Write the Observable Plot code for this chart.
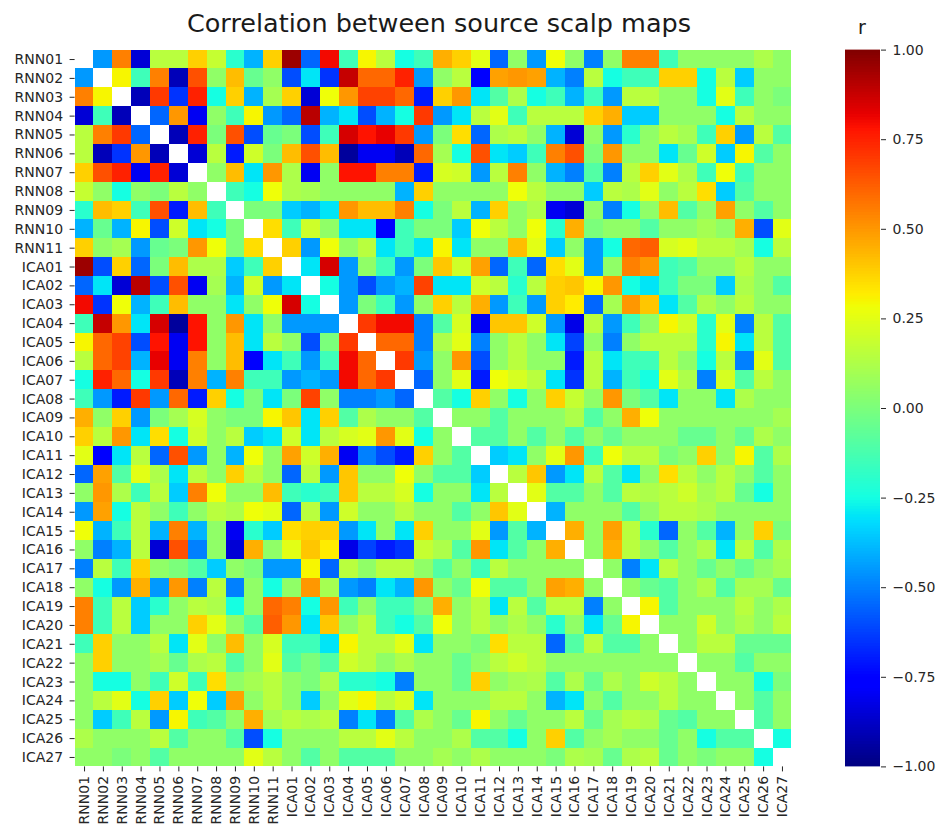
<!DOCTYPE html>
<html>
<head>
<meta charset="utf-8">
<script src="https://cdn.jsdelivr.net/npm/d3@7"></script>
<script src="https://cdn.jsdelivr.net/npm/@observablehq/plot@0.6"></script>
<style>
  body { margin: 0; background: #fff; font-family: "DejaVu Sans", sans-serif; }
  #chart { position: relative; width: 940px; height: 828px; overflow: hidden; background: #fff; }
  #chart svg { position: absolute; top: 0; }
  #title { position: absolute; left: 0; width: 878px; top: 8px; line-height: 30px; text-align: center; font-size: 25.5px; color: #1a1a1a; }
  #cbar-label { position: absolute; left: 842px; width: 40px; top: 14px; line-height: 26px; text-align: center; font-size: 19px; color: #1a1a1a; }
</style>
</head>
<body>
<div id="chart">
  <div id="title">Correlation between source scalp maps</div>
  <div id="cbar-label">r</div>
</div>
<script>
// Component names (RNN sources, then ICA components)
const rnnLabels = ["RNN01","RNN02","RNN03","RNN04","RNN05","RNN06","RNN07","RNN08","RNN09","RNN10","RNN11"];
const icaLabels = ["ICA01","ICA02","ICA03","ICA04","ICA05","ICA06","ICA07","ICA08","ICA09","ICA10",
                   "ICA11","ICA12","ICA13","ICA14","ICA15","ICA16","ICA17","ICA18","ICA19","ICA20",
                   "ICA21","ICA22","ICA23","ICA24","ICA25","ICA26","ICA27"];
const labels = rnnLabels.concat(icaLabels);

// Pearson r, lower triangle: row i lists its correlation with components 0..i-1
const lowerTriangle = [
  [],
  [-0.45],
  [0.55, 0.3],
  [-0.85, -0.15, -0.9],
  [0.15, 0.55, 0.7, -0.55],
  [0.15, -0.9, -0.65, 0.5, -0.9],
  [0.38, 0.65, 0.75, -0.8, 0.75, -0.85],
  [0.18, 0.05, -0.25, 0.05, 0.0, 0.15, 0.05],
  [-0.2, 0.42, 0.38, -0.15, 0.65, -0.7, 0.42, -0.15],
  [-0.4, -0.05, -0.4, 0.3, -0.6, 0.2, -0.3, -0.25, 0.0],
  [0.38, 0.05, 0.1, -0.45, -0.05, 0.0, 0.5, 0.28, 0.0, 0.35],
  [0.95, -0.6, 0.38, -0.55, 0.0, 0.42, 0.12, 0.12, -0.35, -0.15, 0.38],
  [-0.55, -0.3, -0.85, 0.9, -0.6, 0.65, -0.8, 0.1, -0.4, 0.2, -0.45, -0.3],
  [0.8, -0.65, 0.28, -0.4, -0.15, 0.42, 0.05, 0.05, -0.3, 0.05, 0.28, 0.85, -0.25],
  [-0.15, 0.88, 0.5, -0.3, 0.85, -0.95, 0.78, 0.05, 0.5, -0.3, 0.05, -0.45, -0.45, -0.45],
  [0.3, 0.6, 0.68, -0.6, 0.78, -0.8, 0.78, 0.05, 0.42, -0.3, 0.15, 0.05, -0.6, 0.0, 0.7],
  [0.15, 0.6, 0.68, -0.4, 0.82, -0.8, 0.55, 0.05, 0.42, -0.75, -0.3, -0.15, -0.45, -0.15, 0.8, 0.6],
  [-0.25, 0.75, 0.6, -0.25, 0.7, -0.9, 0.55, -0.4, 0.55, -0.15, -0.15, -0.45, -0.4, -0.45, 0.8, 0.6, 0.7],
  [-0.15, -0.45, -0.7, 0.7, -0.45, 0.6, -0.7, 0.38, -0.25, 0.0, -0.3, 0.0, 0.68, 0.05, -0.5, -0.5, -0.45, -0.55],
  [0.45, 0.05, 0.38, -0.45, 0.0, 0.1, 0.22, 0.05, 0.0, 0.0, 0.3, 0.4, -0.3, 0.38, -0.1, 0.12, 0.05, 0.05, -0.1],
  [0.38, 0.15, 0.5, -0.3, 0.35, -0.25, 0.2, 0.05, 0.15, -0.35, -0.3, 0.2, -0.3, 0.15, 0.22, 0.25, 0.5, 0.25, -0.25, 0.05],
  [0.25, -0.75, -0.3, 0.15, -0.55, 0.65, -0.45, 0.05, -0.4, 0.28, 0.05, 0.48, 0.2, 0.45, -0.8, -0.5, -0.6, -0.7, 0.38, 0.05, -0.1],
  [-0.55, 0.48, -0.1, 0.25, 0.12, -0.3, 0.15, 0.05, 0.38, 0.15, 0.05, -0.55, 0.15, -0.45, 0.4, 0.05, 0.05, 0.28, 0.05, -0.1, -0.1, -0.35],
  [0.05, 0.5, 0.12, -0.15, 0.15, -0.35, 0.55, 0.28, 0.05, 0.05, 0.42, -0.15, -0.2, -0.15, 0.4, 0.15, 0.15, 0.22, -0.25, 0.05, 0.05, -0.3, 0.15],
  [-0.45, 0.48, -0.25, 0.15, 0.05, -0.15, 0.05, 0.15, 0.12, 0.28, 0.25, -0.55, 0.15, -0.45, 0.2, 0.05, 0.05, 0.15, 0.05, 0.05, -0.1, 0.05, 0.4, 0.25],
  [0.28, -0.4, -0.15, 0.15, -0.4, 0.55, -0.4, 0.05, -0.8, -0.2, -0.35, 0.35, 0.38, 0.38, -0.45, -0.3, 0.05, -0.3, 0.38, 0.05, 0.05, 0.25, -0.45, -0.1, -0.4],
  [0.05, -0.5, -0.4, 0.15, -0.85, 0.65, -0.5, 0.05, -0.85, 0.45, 0.05, 0.25, 0.4, 0.32, -0.82, -0.62, -0.7, -0.65, 0.18, 0.12, -0.1, 0.5, -0.3, -0.1, 0.05, 0.45],
  [-0.5, 0.15, -0.15, 0.38, 0.05, 0.0, -0.1, -0.35, 0.05, 0.0, -0.45, -0.45, 0.3, -0.55, 0.15, 0.05, 0.15, 0.15, 0.05, -0.1, 0.05, -0.15, 0.15, 0.05, 0.05, 0.05, 0.05],
  [0.05, -0.25, -0.45, 0.45, -0.45, 0.5, -0.5, 0.15, -0.5, 0.05, -0.25, 0.05, 0.5, 0.1, -0.45, -0.5, -0.3, -0.4, 0.5, 0.05, -0.05, 0.28, -0.1, -0.1, 0.05, 0.48, 0.45, 0.05],
  [0.55, -0.15, 0.15, -0.35, -0.2, 0.05, 0.15, 0.12, -0.25, 0.05, 0.6, 0.55, -0.25, 0.5, -0.15, 0.05, -0.15, -0.15, 0.0, 0.45, 0.05, 0.15, -0.3, 0.15, -0.1, 0.15, 0.15, -0.5, 0.05],
  [0.55, -0.15, 0.15, -0.35, 0.05, 0.05, 0.38, 0.25, 0.05, -0.1, 0.62, 0.5, -0.3, 0.4, 0.05, 0.15, -0.15, -0.25, -0.1, 0.28, 0.05, 0.15, 0.05, 0.12, 0.05, -0.2, 0.05, -0.3, -0.05, 0.3],
  [-0.15, 0.38, 0.05, 0.05, 0.15, -0.3, 0.25, 0.05, 0.42, 0.05, 0.22, -0.15, -0.15, -0.3, 0.3, 0.15, 0.15, 0.25, -0.3, 0.05, 0.05, 0.0, 0.35, 0.15, 0.15, -0.55, -0.1, 0.15, -0.1, -0.1, 0.05],
  [0.05, 0.38, 0.05, 0.05, 0.1, -0.05, 0.12, 0.15, -0.1, 0.05, 0.25, -0.1, 0.0, -0.1, 0.2, 0.15, 0.05, 0.12, 0.05, 0.05, -0.05, 0.05, 0.15, 0.2, 0.15, 0.05, 0.05, 0.05, 0.05, 0.05, 0.05, 0.05],
  [0.05, -0.25, -0.25, 0.05, -0.15, 0.2, -0.15, 0.35, 0.05, 0.1, 0.15, 0.05, 0.0, 0.12, -0.2, -0.2, -0.25, -0.5, 0.05, 0.05, -0.05, 0.38, 0.05, 0.1, 0.12, -0.1, 0.12, -0.05, 0.12, 0.05, 0.2, 0.15, 0.05],
  [0.05, 0.15, 0.25, -0.25, 0.38, -0.35, 0.28, -0.35, 0.48, 0.05, 0.15, 0.05, -0.35, 0.05, 0.25, 0.3, 0.15, 0.22, -0.3, 0.05, 0.05, 0.05, 0.15, 0.15, 0.05, -0.4, -0.3, 0.05, -0.1, 0.05, 0.05, 0.15, 0.05, 0.05],
  [0.05, -0.35, -0.15, 0.15, -0.45, 0.3, -0.15, -0.1, 0.05, 0.45, 0.1, 0.15, 0.12, 0.15, -0.5, -0.3, -0.5, -0.1, 0.12, 0.05, -0.05, 0.3, 0.05, -0.05, 0.05, 0.05, 0.15, -0.05, 0.1, 0.15, 0.12, -0.05, -0.1, 0.05, 0.05],
  [0.12, 0.05, 0.05, 0.05, 0.15, -0.1, 0.05, 0.05, -0.1, -0.6, -0.25, 0.05, 0.05, 0.05, 0.15, 0.15, 0.25, 0.15, 0.05, 0.05, 0.12, -0.1, -0.1, -0.25, 0.05, 0.38, -0.1, 0.05, 0.1, 0.05, 0.05, -0.05, 0.05, -0.25, -0.1, -0.1],
  [0.05, 0.05, 0.0, 0.05, -0.1, 0.05, 0.05, 0.05, 0.05, 0.25, 0.15, 0.05, -0.1, 0.05, -0.1, -0.1, -0.1, 0.05, 0.05, 0.1, 0.05, 0.12, 0.05, 0.05, 0.05, 0.0, 0.12, 0.1, -0.05, 0.12, 0.15, -0.05, 0.05, 0.0, 0.05, 0.05, -0.25]
];

// Colorbar tick values
const colorbarTicks = [-1, -0.75, -0.5, -0.25, 0, 0.25, 0.5, 0.75, 1];

// Symmetric cell list (the diagonal is left blank)
const cells = [];
lowerTriangle.forEach((row, i) => {
  row.forEach((r, j) => {
    cells.push({row: labels[i], col: labels[j], r});
    cells.push({row: labels[j], col: labels[i], r});
  });
});

// "jet" colormap as piecewise-linear channels
function piecewise(stops, t) {
  for (let k = 1; k < stops.length; k++) {
    if (t <= stops[k][0]) {
      const [t0, v0] = stops[k - 1], [t1, v1] = stops[k];
      return v0 + (v1 - v0) * (t - t0) / (t1 - t0);
    }
  }
  return stops[stops.length - 1][1];
}
const jetR = [[0, 0], [0.35, 0], [0.66, 1], [0.89, 1], [1, 0.5]];
const jetG = [[0, 0], [0.125, 0], [0.375, 1], [0.64, 1], [0.91, 0], [1, 0]];
const jetB = [[0, 0.5], [0.11, 1], [0.34, 1], [0.65, 0], [1, 0]];
function jet(t) {
  t = Math.max(0, Math.min(1, t));
  const c = v => Math.round(255 * v);
  return `rgb(${c(piecewise(jetR, t))},${c(piecewise(jetG, t))},${c(piecewise(jetB, t))})`;
}
const colorScale = {type: "linear", domain: [-1, 1], interpolate: jet};
const textStyle = {fontFamily: "DejaVu Sans, sans-serif", fontSize: "14px", color: "#262626", background: "transparent", overflow: "visible"};

const heatmap = Plot.plot({
  width: 940,
  height: 828,
  marginLeft: 74.6,
  marginRight: 148.6,
  marginTop: 49.6,
  marginBottom: 61.6,
  x: {type: "band", domain: labels, padding: 0, tickRotate: -90, tickSize: 5, tickPadding: 4, label: null},
  y: {type: "band", domain: labels, padding: 0, tickSize: 5, tickPadding: 7, label: null},
  color: colorScale,
  style: textStyle,
  marks: [
    Plot.cell(cells, {x: "col", y: "row", fill: "r", inset: 0, shapeRendering: "crispEdges"})
  ]
});

// Continuous colorbar built from thin horizontal bands
const nBands = 256;
const bands = d3.range(nBands).map(i => {
  const y1 = -1 + 2 * i / nBands;
  const y2 = Math.min(1, -1 + 2 * (i + 1.6) / nBands);
  return {x1: 0, x2: 1, y1, y2, v: -1 + 2 * (i + 0.5) / nBands};
});

const colorbar = Plot.plot({
  width: 140,
  height: 828,
  marginLeft: 45,
  marginRight: 60,
  marginTop: 49.6,
  marginBottom: 61.6,
  x: {domain: [0, 1], axis: null},
  y: {domain: [-1, 1], axis: "right", ticks: colorbarTicks, tickFormat: d3.format(".2f"), tickSize: 5, tickPadding: 7, label: null},
  color: colorScale,
  style: textStyle,
  marks: [
    Plot.rect(bands, {x1: "x1", x2: "x2", y1: "y1", y2: "y2", fill: "v"})
  ]
});
colorbar.style.left = "800px";

const chart = document.getElementById("chart");
chart.appendChild(heatmap);
chart.appendChild(colorbar);
</script>
</body>
</html>
